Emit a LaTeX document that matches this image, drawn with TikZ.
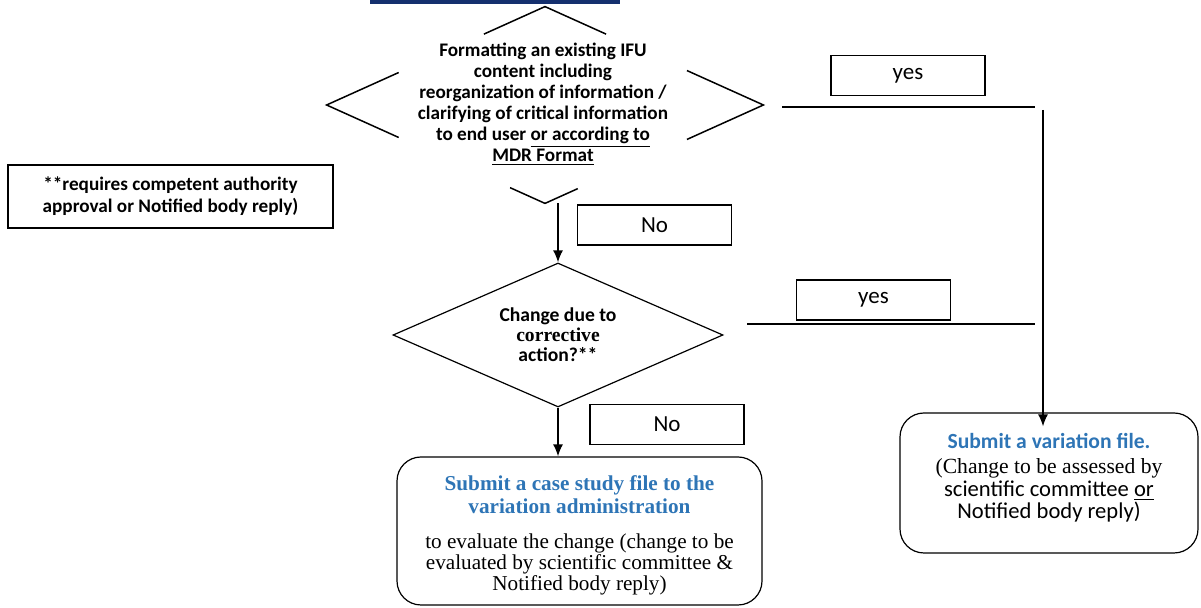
\documentclass[tikz,border=0pt]{standalone}
\usepackage{fontspec}
\setmainfont{Liberation Serif}
\newfontfamily\calibri{Carlito}
\usetikzlibrary{positioning,shapes.geometric,calc,arrows.meta}
\definecolor{titleblue}{HTML}{2E75B6}
\definecolor{barblue}{HTML}{15306E}
\newcommand\bluehead{\color{titleblue}\bfseries}
\tikzset{
	answer/.style={draw,line width=0.6pt,minimum width=77pt,minimum height=20pt,inner sep=0pt,font=\calibri\fontsize{11.5}{12}\selectfont},
	outcome/.style={draw,rounded corners=12pt,line width=0.6pt,inner sep=0pt},
	broken/.style={line width=0.75pt},
	flow/.style={line width=0.75pt,-{Latex[length=6pt,width=5pt]}},
}

\begin{document}
\begin{tikzpicture}[x=0.5pt,y=-0.5pt]
	\useasboundingbox (0,0) rectangle (1201,608);
	\fill[barblue] (370,0) rectangle (620,4);
	
	\node[diamond,minimum width=218pt,minimum height=98pt,inner sep=0pt] (q1) at (545,105) {};
	\node[align=center,font=\calibri\bfseries\fontsize{9.6}{10.5}\selectfont] (q1text) at (543,104) {Formatting an existing IFU\\content including\\reorganization of information /\\clarifying of critical information\\to end user \underline{or according to}\\\underline{MDR Format}};
	\draw[broken] ($(q1.north)!0.28!(q1.west)$) -- (q1.north) -- ($(q1.north)!0.28!(q1.east)$);
	\draw[broken] ($(q1.west)!0.33!(q1.north)$) -- (q1.west) -- ($(q1.west)!0.33!(q1.south)$);
	\draw[broken] ($(q1.east)!0.35!(q1.north)$) -- (q1.east) -- ($(q1.east)!0.35!(q1.south)$);
	\draw[broken] ($(q1.south)!0.16!(q1.west)$) -- (q1.south) -- ($(q1.south)!0.15!(q1.east)$);
	
	\node[draw,line width=0.6pt,minimum width=162.5pt,minimum height=31.5pt,align=center,font=\calibri\bfseries\fontsize{9.6}{11}\selectfont] (note) at (170.5,196.5) {**requires competent authority\\approval or Notified body reply)};
	
	\node[diamond,draw,line width=0.6pt,minimum width=165pt,minimum height=72pt,inner sep=0pt] (q2) at (558,335) {};
	\node[align=center,font=\calibri\bfseries\fontsize{9.8}{10}\selectfont] (q2text) at (q2) {Change due to\\{\rmfamily corrective}\\action?**};
	
	\node[answer] (yes1) at (908,75.5) {yes};
	\node[answer] (no1) at (654.5,225) {No};
	\node[answer] (yes2) at (873.5,300) {yes};
	\node[answer] (no2) at (667,424.5) {No};
	
	\node[outcome,minimum width=182.5pt,minimum height=74pt] (case) at (579.5,531) {};
	\node[align=center,font=\fontsize{10.6}{10.3}\selectfont] (casetext) at (579.5,535) {\bluehead Submit a case study file to the\\[1.2pt]\bluehead variation administration\\[7.5pt]to evaluate the change (change to be\\evaluated by scientific committee \&\\Notified body reply)};
	
	\node[outcome,minimum width=149pt,minimum height=70pt] (var) at (1049,483) {};
	\node[align=center,font=\fontsize{10.8}{10}\selectfont] (vartext) at (1049,478) {\calibri\bluehead Submit a variation file.\\[2.5pt](Change to be assessed by\\\calibri\fontsize{11.3}{10}\selectfont scientific committee \underline{or}\\\calibri\fontsize{11.3}{10}\selectfont Notified body reply)};
	
	\coordinate (y1a) at (782,107);
	\coordinate (y1b) at (1035,107);
	\coordinate (y2a) at (747,324);
	\coordinate (y2b) at (1035,324);
	\coordinate (drop) at (1043,110);
	
	\draw[line width=0.7pt] (y1a) -- (y1b);
	\draw[line width=0.7pt] (y2a) -- (y2b);
	\draw[flow] (drop) -- ([yshift=-7pt]drop |- var.north);
	\draw[flow] (q2.north |- q1.south) -- (q2.north);
	\draw[flow] (q2.south) -- (q2.south |- case.north);
\end{tikzpicture}
\end{document}
